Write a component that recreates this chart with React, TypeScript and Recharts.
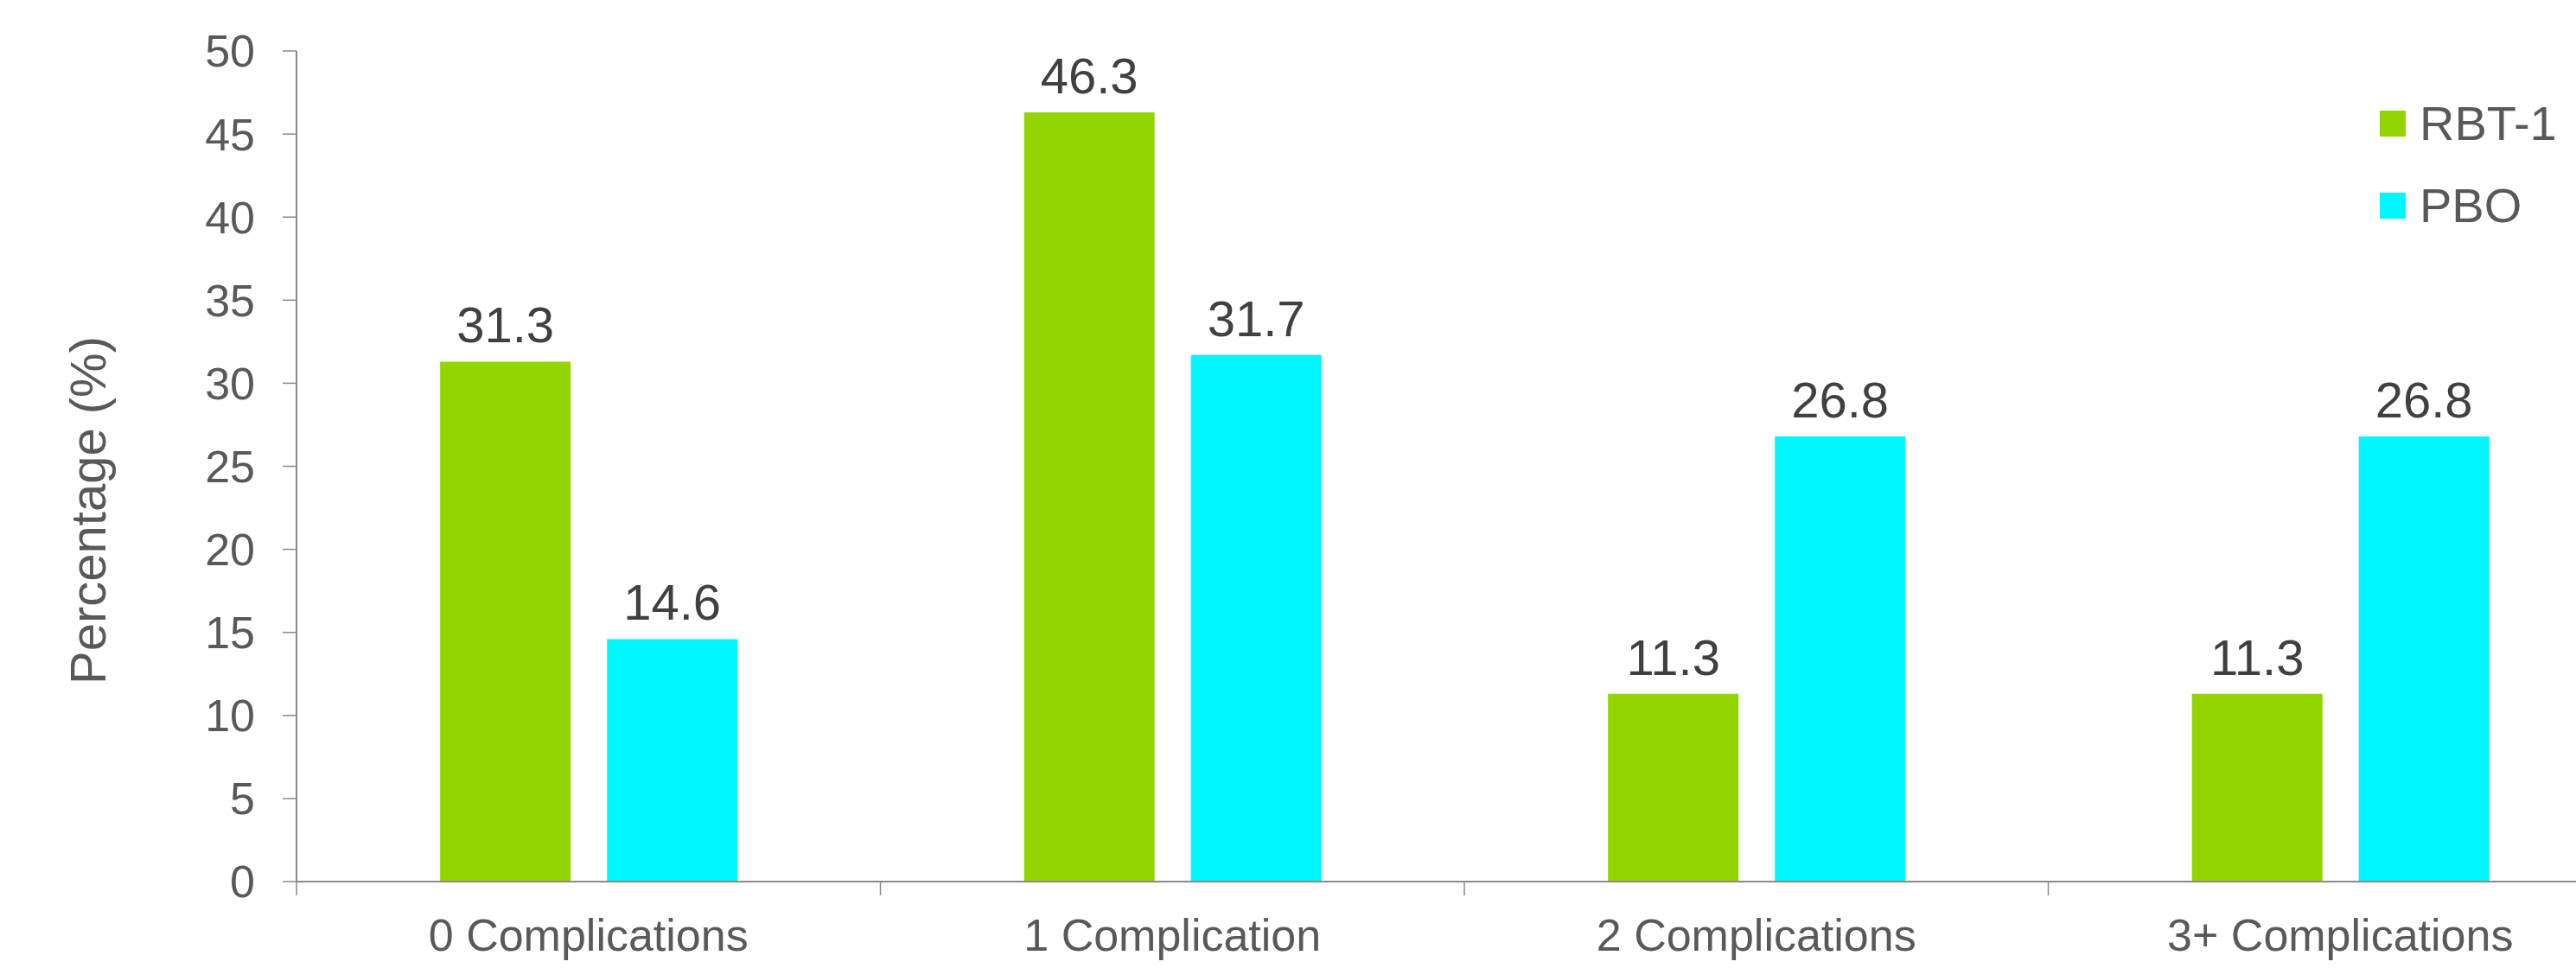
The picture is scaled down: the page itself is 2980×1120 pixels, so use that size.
import React from "react";
import { Bar, BarChart, LabelList, Legend, XAxis, YAxis, Label } from "recharts";

const CATEGORIES = ["0 Complications", "1 Complication", "2 Complications", "3+ Complications"];
const RBT1_VALUES = [31.3, 46.3, 11.3, 11.3];
const PBO_VALUES = [14.6, 31.7, 26.8, 26.8];
const Y_TICKS = [0, 5, 10, 15, 20, 25, 30, 35, 40, 45, 50];

const SERIES = [
  { key: "rbt1", name: "RBT-1", color: "#93D500" },
  { key: "pbo", name: "PBO", color: "#00F7FD" },
];

const FONT = "Arial, 'Liberation Sans', Helvetica, sans-serif";
const AXIS_COLOR = "#8a8a8a";
const TICK_TEXT = "#595959";
const LABEL_TEXT = "#404040";

const CHART_WIDTH = 3060;
const CHART_HEIGHT = 1120;
const MARGIN = { top: 59, right: 15, left: 0, bottom: 0 };
const Y_AXIS_WIDTH = 343;
const X_AXIS_HEIGHT = 100;
const X_TICK_SIZE = 16;
const X_TICK_MARGIN = 27;

const data = CATEGORIES.map((name, i) => ({
  name,
  rbt1: RBT1_VALUES[i],
  pbo: PBO_VALUES[i],
}));

const plotWidth = CHART_WIDTH - MARGIN.left - MARGIN.right - Y_AXIS_WIDTH;
const bandWidth = plotWidth / CATEGORIES.length;

function CategoryTick(props: any) {
  const { x, y, payload } = props;
  const half = payload?.offset ? payload.offset : bandWidth / 2;
  const lineX = x - half;
  const lineTop = y - X_TICK_SIZE - X_TICK_MARGIN;
  return (
    <g>
      <line x1={lineX} x2={lineX} y1={lineTop} y2={lineTop + X_TICK_SIZE} stroke={AXIS_COLOR} strokeWidth={1.5} />
      <text
        x={x}
        y={y}
        dy="0.71em"
        textAnchor="middle"
        fill={TICK_TEXT}
        fontSize={52}
        fontFamily={FONT}
      >
        {payload.value}
      </text>
    </g>
  );
}

function LegendContent() {
  return (
    <div style={{ fontFamily: FONT }}>
      {SERIES.map((s) => (
        <div key={s.key} style={{ display: "flex", alignItems: "center", height: 95 }}>
          <span style={{ display: "inline-block", width: 30, height: 30, background: s.color, marginRight: 16 }} />
          <span style={{ fontSize: 56, color: TICK_TEXT, lineHeight: "95px" }}>{s.name}</span>
        </div>
      ))}
    </div>
  );
}

export default function App() {
  return (
    <div
      style={{
        position: "absolute",
        left: 0,
        top: 0,
        width: 2980,
        height: 1120,
        overflow: "hidden",
        background: "#fff",
      }}
    >
      <BarChart
        width={CHART_WIDTH}
        height={CHART_HEIGHT}
        data={data}
        margin={MARGIN}
        barCategoryGap="24.6%"
        barGap={42}
      >
        <XAxis
          dataKey="name"
          height={X_AXIS_HEIGHT}
          axisLine={{ stroke: AXIS_COLOR, strokeWidth: 2 }}
          tickLine={false}
          tickSize={X_TICK_SIZE}
          tickMargin={X_TICK_MARGIN}
          tick={<CategoryTick />}
          interval={0}
        />
        <YAxis
          width={Y_AXIS_WIDTH}
          domain={[0, 50]}
          ticks={Y_TICKS}
          interval={0}
          axisLine={{ stroke: AXIS_COLOR, strokeWidth: 2 }}
          tickLine={{ stroke: AXIS_COLOR, strokeWidth: 1.5 }}
          tickSize={16}
          tickMargin={32}
          tick={{ fill: TICK_TEXT, fontSize: 52, fontFamily: FONT }}
        >
          <Label
            content={({ viewBox }: any) => {
              const cx = viewBox.x + viewBox.width - 242;
              const cy = viewBox.y + viewBox.height / 2 + 51;
              return (
                <text
                  x={cx}
                  y={cy}
                  transform={`rotate(-90, ${cx}, ${cy})`}
                  textAnchor="middle"
                  dominantBaseline="central"
                  fill={TICK_TEXT}
                  fontSize={58}
                  fontFamily={FONT}
                >
                  Percentage (%)
                </text>
              );
            }}
          />
        </YAxis>
        <Legend
          layout="horizontal"
          align="center"
          verticalAlign="middle"
          content={<LegendContent />}
          wrapperStyle={{ position: "absolute", left: 2753, top: 95, width: "auto" }}
        />
        {SERIES.map((s) => (
          <Bar key={s.key} dataKey={s.key} name={s.name} fill={s.color} isAnimationActive={false}>
            <LabelList
              dataKey={s.key}
              position="top"
              offset={22}
              fill={LABEL_TEXT}
              fontSize={58}
              fontFamily={FONT}
              formatter={(v: any) => Number(v).toFixed(1)}
            />
          </Bar>
        ))}
      </BarChart>
    </div>
  );
}
